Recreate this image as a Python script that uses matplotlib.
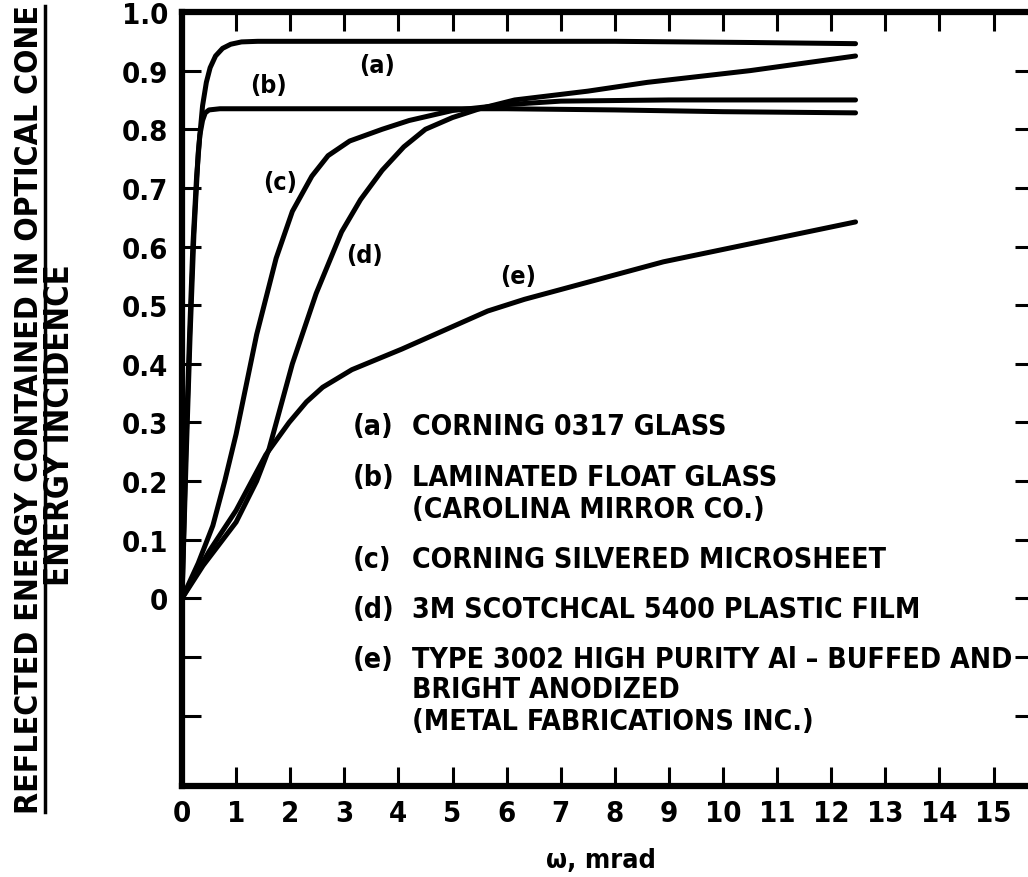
import matplotlib
matplotlib.use('Agg')
import matplotlib.pyplot as plt
from matplotlib import font_manager as fm
from matplotlib.textpath import TextPath
from matplotlib.font_manager import FontProperties
from matplotlib.lines import Line2D

# ---------------- data ----------------
a_x = [0, 0.08, 0.15, 0.22, 0.30, 0.38, 0.45, 0.52, 0.62, 0.75, 0.90, 1.1, 1.4, 2.5, 5, 8, 10.5, 12.45]
a_y = [0, 0.25, 0.45, 0.62, 0.76, 0.84, 0.88, 0.905, 0.925, 0.938, 0.945, 0.949, 0.95, 0.95, 0.95, 0.95, 0.948, 0.946]

b_x = [0, 0.07, 0.14, 0.20, 0.27, 0.33, 0.38, 0.43, 0.50, 0.70, 2, 4, 6, 8, 10, 12.45]
b_y = [0, 0.25, 0.45, 0.60, 0.72, 0.79, 0.815, 0.828, 0.833, 0.835, 0.835, 0.835, 0.835, 0.833, 0.830, 0.828]

c_x = [0, 0.3, 0.57, 0.79, 1.0, 1.38, 1.74, 2.04, 2.4, 2.7, 3.1, 3.7, 4.2, 5.0, 6.0, 7.0, 9.0, 12.45]
c_y = [0, 0.06, 0.124, 0.20, 0.28, 0.45, 0.58, 0.66, 0.72, 0.755, 0.78, 0.80, 0.815, 0.832, 0.842, 0.848, 0.85, 0.85]

d_x = [0, 0.39, 1.0, 1.38, 1.61, 2.04, 2.48, 2.95, 3.3, 3.7, 4.1, 4.5, 5.0, 5.5, 6.15, 7.5, 8.6, 10.5, 12.45]
d_y = [0, 0.056, 0.13, 0.20, 0.255, 0.40, 0.52, 0.625, 0.68, 0.73, 0.77, 0.80, 0.82, 0.835, 0.85, 0.865, 0.88, 0.90, 0.925]

e_x = [0, 0.5, 1.0, 1.55, 1.98, 2.3, 2.6, 3.14, 4.06, 5.65, 6.33, 8.9, 12.45]
e_y = [0, 0.08, 0.15, 0.245, 0.30, 0.335, 0.36, 0.39, 0.425, 0.49, 0.51, 0.574, 0.642]

x_ticks = list(range(16))
x_tick_labels = [str(i) for i in x_ticks]
y_ticks = [-0.2, -0.1, 0, 0.1, 0.2, 0.3, 0.4, 0.5, 0.6, 0.7, 0.8, 0.9, 1.0]
y_tick_labels = ['', '', '0', '0.1', '0.2', '0.3', '0.4', '0.5', '0.6', '0.7', '0.8', '0.9', '1.0']

curve_tags = ['(a)', '(b)', '(c)', '(d)', '(e)']
legend_lines = [
    ('(a)', 'CORNING 0317 GLASS'),
    ('(b)', 'LAMINATED FLOAT GLASS'),
    ('', '(CAROLINA MIRROR CO.)'),
    ('(c)', 'CORNING SILVERED MICROSHEET'),
    ('(d)', '3M SCOTCHCAL 5400 PLASTIC FILM'),
    ('(e)', 'TYPE 3002 HIGH PURITY Al \u2013 BUFFED AND'),
    ('', 'BRIGHT ANODIZED'),
    ('', '(METAL FABRICATIONS INC.)'),
]
ylabel_num = 'REFLECTED ENERGY CONTAINED IN OPTICAL CONE'
ylabel_den = 'ENERGY INCIDENCE'
xlabel = '\u03c9, mrad'

# ---------------- fonts: prefer a condensed bold sans if one is installed ----------------
cond = {}
for f in fm.fontManager.ttflist:
    if str(f.stretch) in ('condensed', 'semi-condensed', 'extra-condensed') and f.style == 'normal':
        cond.setdefault(f.name, str(f.stretch))
NARROW, STRETCH = 'DejaVu Sans', 'normal'
for name in ['Liberation Sans Narrow', 'DejaVu Sans', 'Roboto Condensed', 'Noto Sans',
             'Open Sans', 'Roboto', 'Lato', 'Inter']:
    if name in cond:
        NARROW, STRETCH = name, cond[name]
        break
FAM = [NARROW, 'DejaVu Sans']
CONDENSED = STRETCH != 'normal'


def fit(text, px):
    fp = FontProperties(family=NARROW, weight='bold', stretch=STRETCH, size=10)
    w = TextPath((0, 0), text, prop=fp).get_extents().width
    return 10 * px / (w * 100 / 72)


W, H = 1028, 878
fig = plt.figure(figsize=(W / 100, H / 100), dpi=100)


def fx(px):
    return px / W


def fy(py):
    return 1 - py / H


def txt(x, y, s, size, **kw):
    fig.text(fx(x), fy(y), s, fontsize=size, fontweight='bold', family=FAM,
             fontstretch=STRETCH, **kw)


L, R, T, B = 182, 1034, 13, 787
ax = fig.add_axes([fx(L), fy(B), (R - L) / W, (B - T) / H])
ax.set_xlim(0, (R - L) / 54.1)
ax.set_ylim(-0.32, 1.0)

for xs, ys in [(a_x, a_y), (b_x, b_y), (c_x, c_y), (d_x, d_y), (e_x, e_y)]:
    ax.plot(xs, ys, color='black', lw=3.6, solid_capstyle='round', solid_joinstyle='round')

ax.set_xticks(x_ticks)
ax.set_xticklabels(x_tick_labels)
ax.set_yticks(y_ticks)
ax.set_yticklabels(y_tick_labels)
ax.tick_params(axis='both', direction='in', length=14, width=2.2, top=True, right=True)
ax.tick_params(axis='x', pad=9)
ax.tick_params(axis='y', pad=10)
tick_size = 21 if CONDENSED else 17
for lab in ax.get_xticklabels() + ax.get_yticklabels():
    lab.set_fontfamily(FAM)
    lab.set_fontweight('bold')
    lab.set_fontstretch(STRETCH)
    lab.set_fontsize(tick_size)
for s in ax.spines.values():
    s.set_linewidth(4.5)

# curve tags
tag_pos = [(3.6, 0.91), (1.59, 0.875), (1.81, 0.71), (3.38, 0.585), (6.21, 0.55)]
for t, (px_, py_) in zip(curve_tags, tag_pos):
    ax.text(px_, py_, t, ha='center', va='center', fontsize=16 if not CONDENSED else 18,
            fontweight='bold', family=FAM, fontstretch=STRETCH)

# legend text block
leg_size = fit('CORNING SILVERED MICROSHEET', 473)
rows_y = [427, 478, 510, 560, 610, 660, 690, 722]
for (tag, line), ry in zip(legend_lines, rows_y):
    if tag:
        txt(353, ry, tag, leg_size, ha='left', va='center')
    txt(412, ry, line, leg_size, ha='left', va='center')

# y label as a fraction
txt(30, 410, ylabel_num, fit(ylabel_num, 806), rotation=90, ha='center', va='center')
txt(60, 425, ylabel_den, fit(ylabel_den, 316), rotation=90, ha='center', va='center')
fig.add_artist(Line2D([fx(45), fx(45)], [fy(813), fy(7)], transform=fig.transFigure,
                      color='black', lw=2.5))

# x label
txt(601, 861, xlabel, fit(xlabel, 107), ha='center', va='center')

fig.savefig('out.png', dpi=100)
